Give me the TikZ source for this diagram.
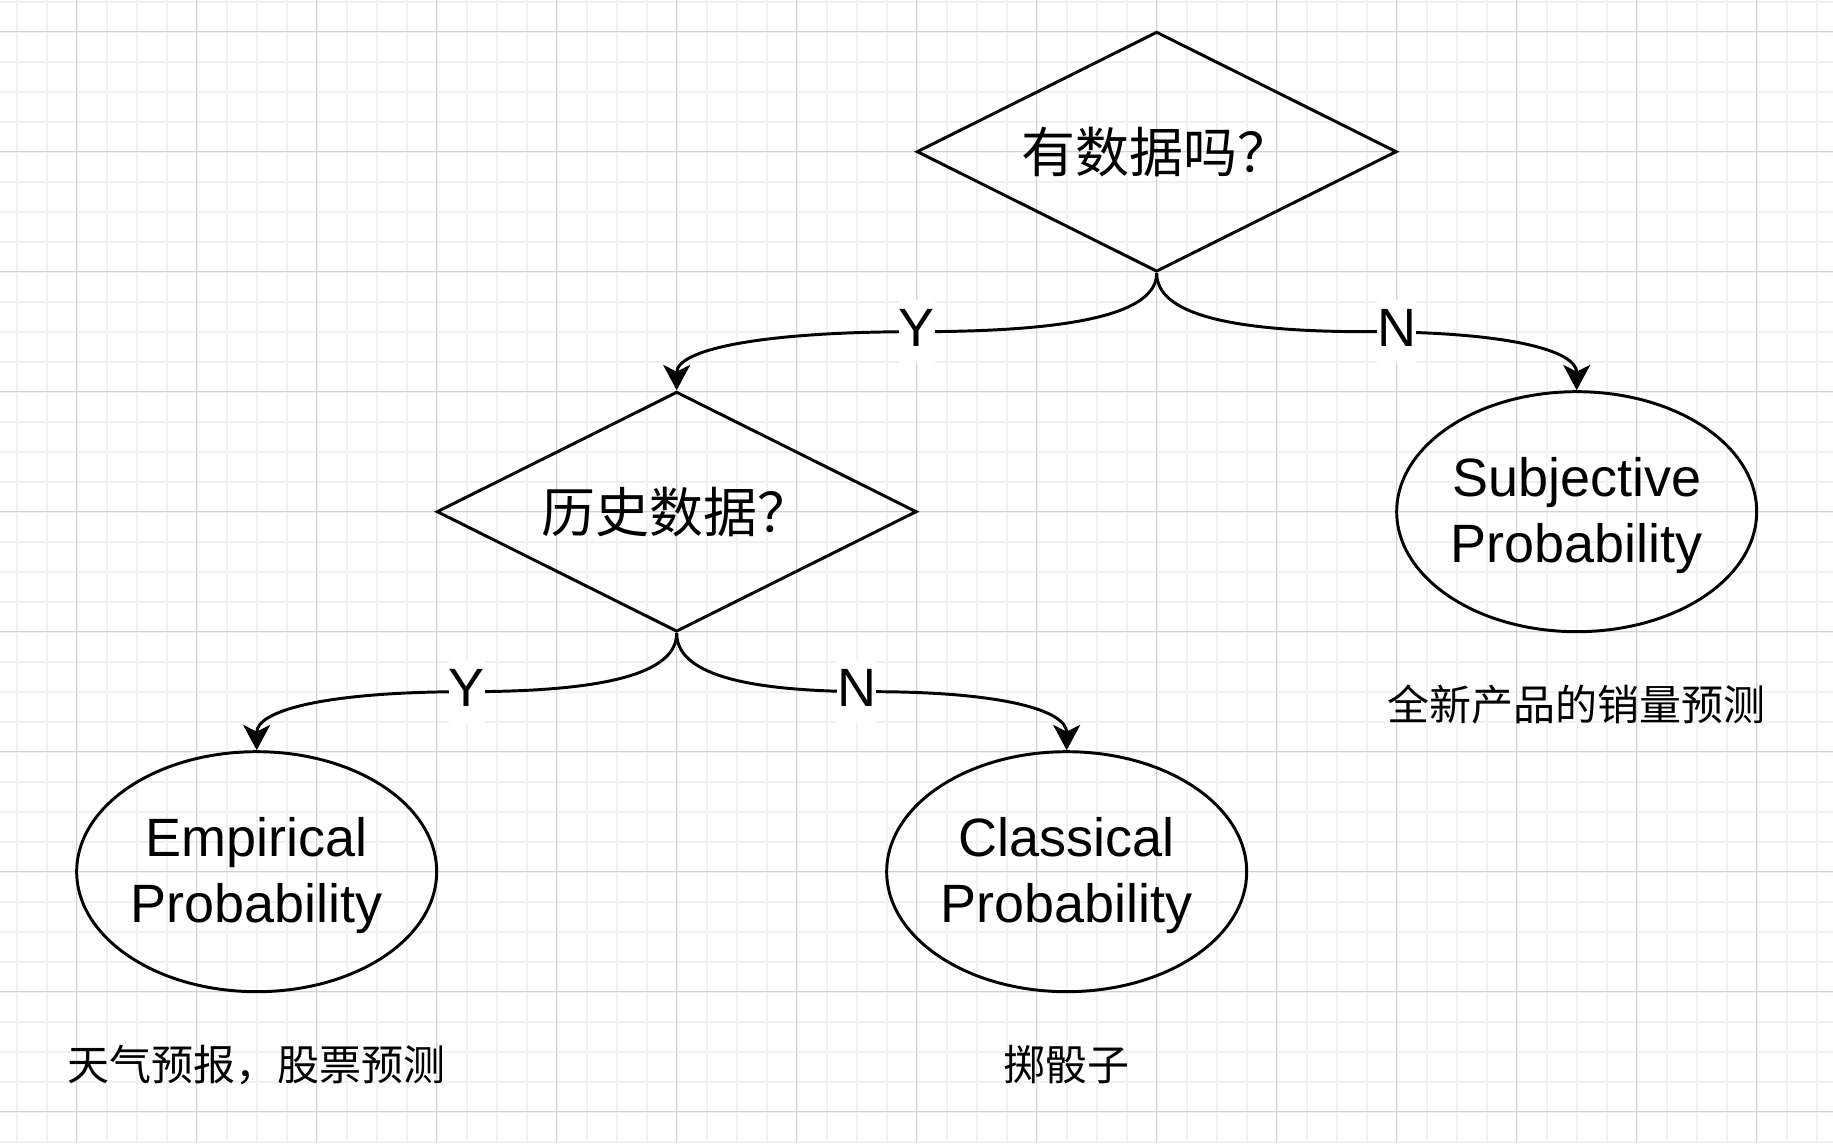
\documentclass[tikz,border=0pt]{standalone}
\usepackage{fontspec}
\setmainfont{Liberation Sans}
\newfontfamily\cjk{Noto Sans CJK SC}
\usetikzlibrary{shapes.geometric,arrows.meta}
\definecolor{gridmajor}{RGB}{210,210,210}
\definecolor{gridminor}{RGB}{241,241,241}

\begin{document}
\begin{tikzpicture}[
        line width=0.7pt,
        decision/.style={draw,diamond,aspect=2,minimum width=4cm,minimum height=2cm,inner sep=1pt,font=\cjk\fontsize{12.8}{15.4}\selectfont},
        outcome/.style={draw,ellipse,minimum width=3cm,minimum height=2cm,inner sep=0pt,align=center,text height=27.4pt,text depth=3.2pt,font=\fontsize{12.8}{15.8}\selectfont},
        example/.style={font=\cjk\fontsize{9.96}{12}\selectfont},
        yn/.style={fill=white,inner xsep=0pt,inner ysep=0pt,text height=11pt,text depth=3.9pt,font=\fontsize{12.8}{15.4}\selectfont},
        flow/.style={-{Stealth[length=6pt,width=6.4pt,inset=1.6pt]}}
    ]
        \useasboundingbox (-0.639,-9.261) rectangle (14.636,0.264);
        \draw[gridminor,line width=0.5pt,step=0.25] (-0.639,-9.261) grid (14.636,0.264);
        \draw[gridmajor,line width=0.35pt,step=1] (-0.639,-9.261) grid (14.636,0.264);

        \node[decision] (hasdata) at (9,-1) {有数据吗？};
        \node[decision] (history) at (5,-4) {历史数据？};
        \node[outcome] (subjective) at (12.5,-4) {Subjective\\Probability};
        \node[outcome] (empirical) at (1.5,-7) {Empirical\\Probability};
        \node[outcome] (classical) at (8.25,-7) {Classical\\Probability};
        \node[example] (subjex) at (12.5,-5.61) {全新产品的销量预测};
        \node[example] (empex) at (1.5,-8.61) {天气预报，股票预测};
        \node[example] (classex) at (8.25,-8.61) {掷骰子};

        % bends of the curved edges
        \coordinate (ybend1) at (7,-2.5);
        \coordinate (nbend1) at (10.75,-2.5);
        \coordinate (ybend2) at (3.25,-5.5);
        \coordinate (nbend2) at (6.625,-5.5);

        \draw[flow] (hasdata.south) .. controls +(0,-1/3) and +(4/3,0) .. (ybend1) .. controls +(-4/3,0) and +(0,1/3) .. (history.north);
        \draw[flow] (hasdata.south) .. controls +(0,-1/3) and +(-7/6,0) .. (nbend1) .. controls +(7/6,0) and +(0,1/3) .. (subjective.north);
        \draw[flow] (history.south) .. controls +(0,-1/3) and +(7/6,0) .. (ybend2) .. controls +(-7/6,0) and +(0,1/3) .. (empirical.north);
        \draw[flow] (history.south) .. controls +(0,-1/3) and +(-13/12,0) .. (nbend2) .. controls +(13/12,0) and +(0,1/3) .. (classical.north);

        \node[yn] (yes1) at (7,-2.5) {Y};
        \node[yn] (no1) at (11,-2.5) {N};
        \node[yn] (yes2) at (3.25,-5.5) {Y};
        \node[yn] (no2) at (6.5,-5.5) {N};
\end{tikzpicture}
\end{document}
